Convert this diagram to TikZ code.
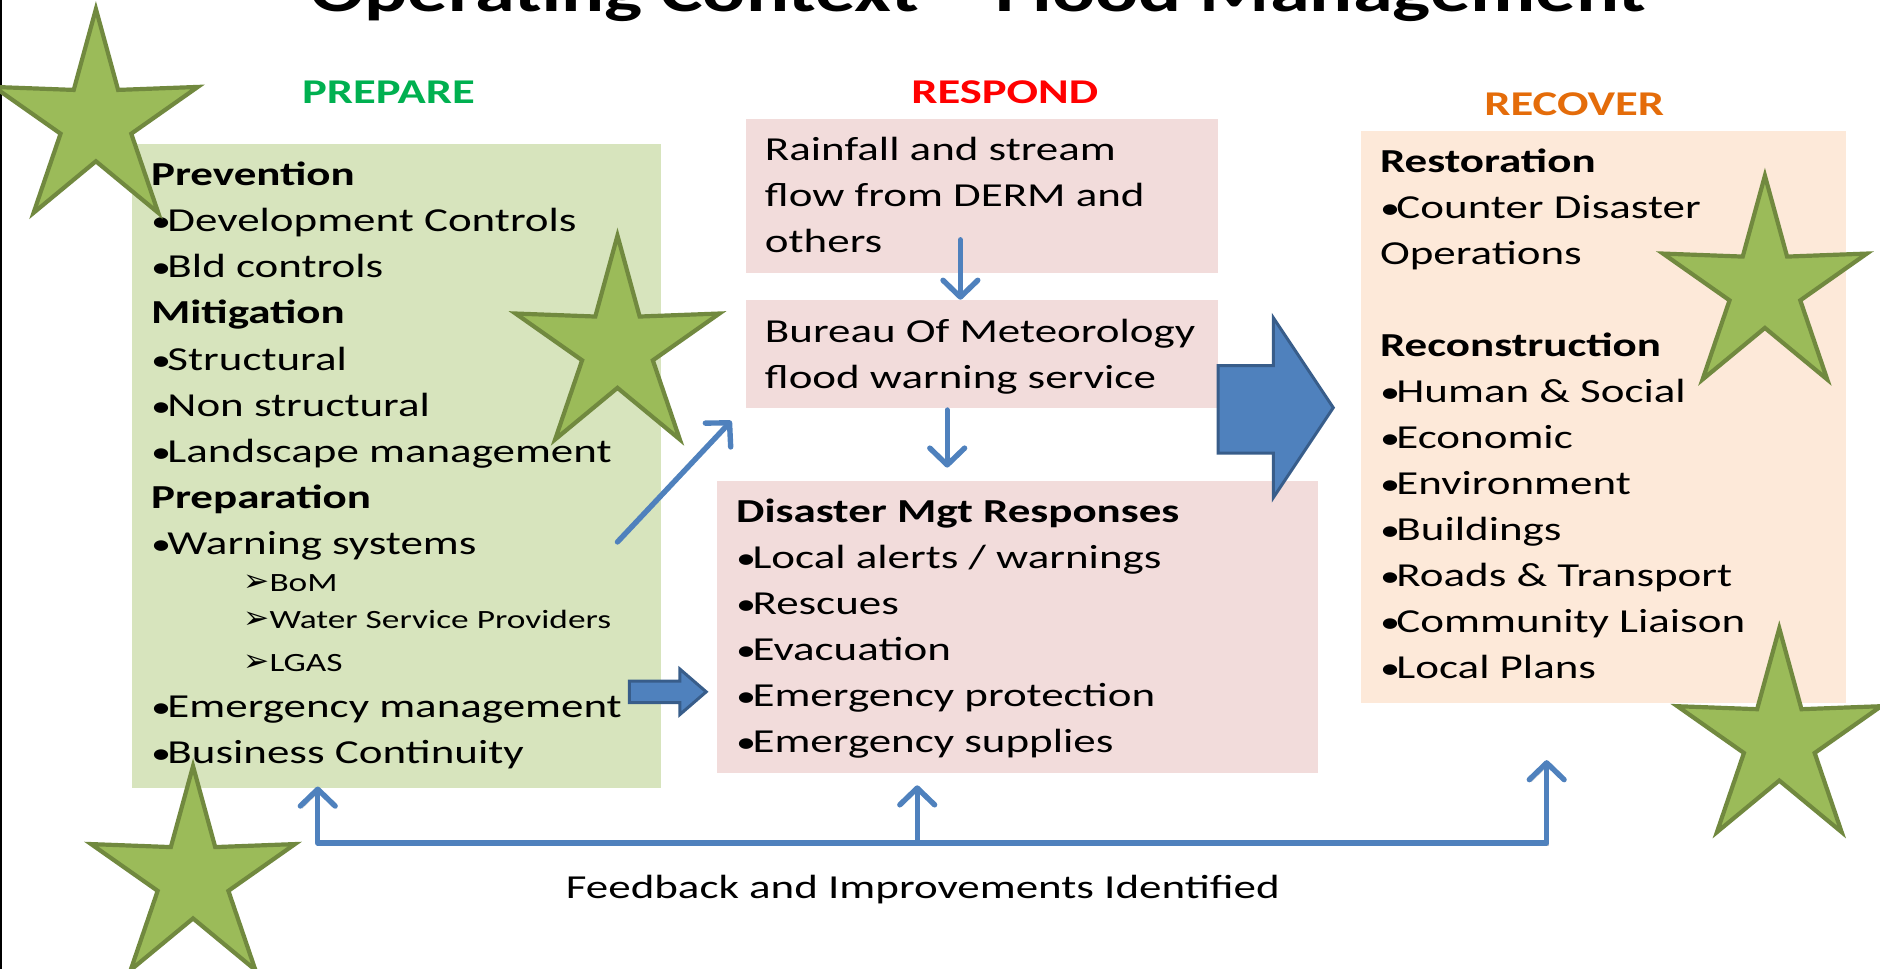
\documentclass[tikz,border=0pt]{standalone}
\usepackage{fontspec}
\setmainfont{Carlito}[FakeStretch=1.34]
\newfontfamily\arrowfont{DejaVu Sans}
\usetikzlibrary{arrows.meta, positioning}

\definecolor{prepgreen}{HTML}{00B050}
\definecolor{respred}{HTML}{FF0000}
\definecolor{recorange}{HTML}{E46C0A}
\definecolor{greenfill}{HTML}{D7E4BD}
\definecolor{pinkfill}{HTML}{F2DCDB}
\definecolor{peachfill}{HTML}{FDE9D9}
\definecolor{flowblue}{HTML}{4F81BD}
\definecolor{flowdark}{HTML}{385D8A}
\definecolor{starfill}{HTML}{9BBB59}
\definecolor{starline}{HTML}{71893F}

\newcommand{\subsize}{\fontsize{22}{26}\selectfont}
\newcommand{\bul}{{\fontsize{25}{30}\selectfont•}\kern-3pt}
\newcommand{\warnsub}[1]{\hspace*{77pt}{\fontsize{26}{26}\selectfont\arrowfont ➢}{\subsize #1}}

\tikzset{
    every node/.style={inner sep=0pt, outer sep=0pt},
    panel/.style={ % Sets the properties for each coloured box
        anchor=north west,
        draw=none
    },
    boxtext/.style={ % Text inside the boxes, placed by its last line
        anchor=base west,
        align=left,
        font=\fontsize{28}{38.4}\selectfont
    },
    phase/.style={ % PREPARE / RESPOND / RECOVER
        anchor=base,
        font=\fontsize{29}{34}\selectfont\bfseries
    },
    barb/.tip={Straight Barb[length=14pt, width=29pt, line join=round, line cap=round]},
    flow/.style={ % Thin blue arrows
        draw=flowblue,
        line width=4.5pt,
        line cap=round,
        line join=round,
        -barb
    },
    blockarrow/.style={ % Fat arrows
        fill=flowblue,
        draw=flowdark,
        line width=2.5pt,
        line join=miter
    },
    floodstar/.pic={
        \draw[fill=starfill, draw=starline, line width=3.5pt]
            (0,-94) -- (18.5,-26.5) -- (85,-29) -- (29.5,10) -- (52,76)
            -- (0,33) -- (-52,76) -- (-29.5,10) -- (-85,-29) -- (-18.5,-26.5) -- cycle;
    }
}

\begin{document}
\begin{tikzpicture}[x=1pt, y=-1pt]
    \useasboundingbox (0,0) rectangle (1568,808);
    \clip (0,0) rectangle (1568,808);
    \draw[line width=1.5pt] (1,0) -- (1,808);

    % title, cut by the top edge
    \node[anchor=base west, font=\fontsize{50}{60}\selectfont\bfseries] (title) at (259,10)
        {Operating Context – Flood Management};

    \node[phase, text=prepgreen] (prepare) at (324,86) {PREPARE};
    \node[phase, text=respred]   (respond) at (838,86) {RESPOND};
    \node[phase, text=recorange] (recover) at (1313,96) {RECOVER};

    % boxes
    \node[panel, fill=greenfill, minimum width=441pt, minimum height=537pt] (prep) at (110,120) {};
    \node[panel, fill=pinkfill,  minimum width=394pt, minimum height=129pt] (rain) at (622,99) {};
    \node[panel, fill=pinkfill,  minimum width=394pt, minimum height=90pt]  (bom)  at (622,250) {};
    \node[panel, fill=pinkfill,  minimum width=501pt, minimum height=244pt] (dm)   at (598,401) {};
    \node[panel, fill=peachfill, minimum width=405pt, minimum height=477pt] (rec)  at (1135,109) {};

    \node[boxtext] (preptext) at (126,637) {\textbf{Prevention}\\
        \bul Development Controls\\
        \bul Bld controls\\
        \textbf{Mitigation}\\
        \bul Structural\\
        \bul Non structural\\
        \bul Landscape management\\
        \textbf{Preparation}\\
        \bul Warning systems\\[-7.4pt]
        \warnsub{BoM}\\[-7.4pt]
        \warnsub{Water Service Providers}\\[-2.4pt]
        \warnsub{LGAS}\\
        \bul Emergency management\\
        \bul Business Continuity};
    \node[boxtext] (raintext) at (638,211) {Rainfall and stream\\ flow from DERM and\\ others};
    \node[boxtext] (bomtext) at (638,324) {Bureau Of Meteorology\\ flood warning service};
    \node[boxtext] (dmtext) at (614,628) {\textbf{Disaster Mgt Responses}\\
        \bul Local alerts / warnings\\
        \bul Rescues\\
        \bul Evacuation\\
        \bul Emergency protection\\
        \bul Emergency supplies};
    \node[boxtext] (rectext) at (1151,566) {\textbf{Restoration}\\
        \bul Counter Disaster\\
        Operations\\[38.4pt]
        \textbf{Reconstruction}\\
        \bul Human \& Social\\
        \bul Economic\\
        \bul Environment\\
        \bul Buildings\\
        \bul Roads \& Transport\\
        \bul Community Liaison\\
        \bul Local Plans};

    % arrows between the boxes
    \draw[flow] ([xshift=-18pt, yshift=28pt]rain.south) -- ([xshift=-18pt]bom.north);
    \draw[flow] ([xshift=-29pt, yshift=-2pt]bom.south) -- ([xshift=-58.5pt, yshift=11pt]dm.north);
    \coordinate (warnend) at (515,452);
    \draw[flow] (warnend) -- ([xshift=-12pt, yshift=-11pt]bom.south west);
    \draw[blockarrow] (1016,305) -- (1062,305) -- (1062,265) -- (1112,340)
        -- (1062,415) -- (1062,378) -- (1016,378) -- cycle;
    \draw[blockarrow] (525,568) -- (567,568) -- (567,558) -- (589,577)
        -- (567,596) -- (567,586) -- (525,586) -- cycle;

    % feedback loop
    \coordinate (fbL) at (265,703);
    \coordinate (fbM) at (765,703);
    \coordinate (fbR) at (1290,703);
    \coordinate (tipL) at (265,656);
    \coordinate (tipM) at (765,655);
    \coordinate (tipR) at (1290,634);
    \draw[flow, barb-barb, preaction={draw=black!18, transform canvas={xshift=1.5pt, yshift=-2pt}}]
        (tipL) -- (fbL) -- (fbR) -- (tipR);
    \draw[flow] (fbM) -- (tipM);
    \node[boxtext] (feedback) at (472,749) {Feedback and Improvements Identified};

    % stars
    \pic at (80,101.5)  {floodstar};
    \pic at (515,290.5) {floodstar};
    \pic at (1472,240.5){floodstar};
    \pic at (1484,618)  {floodstar};
    \pic at (161,733)   {floodstar};
\end{tikzpicture}
\end{document}
